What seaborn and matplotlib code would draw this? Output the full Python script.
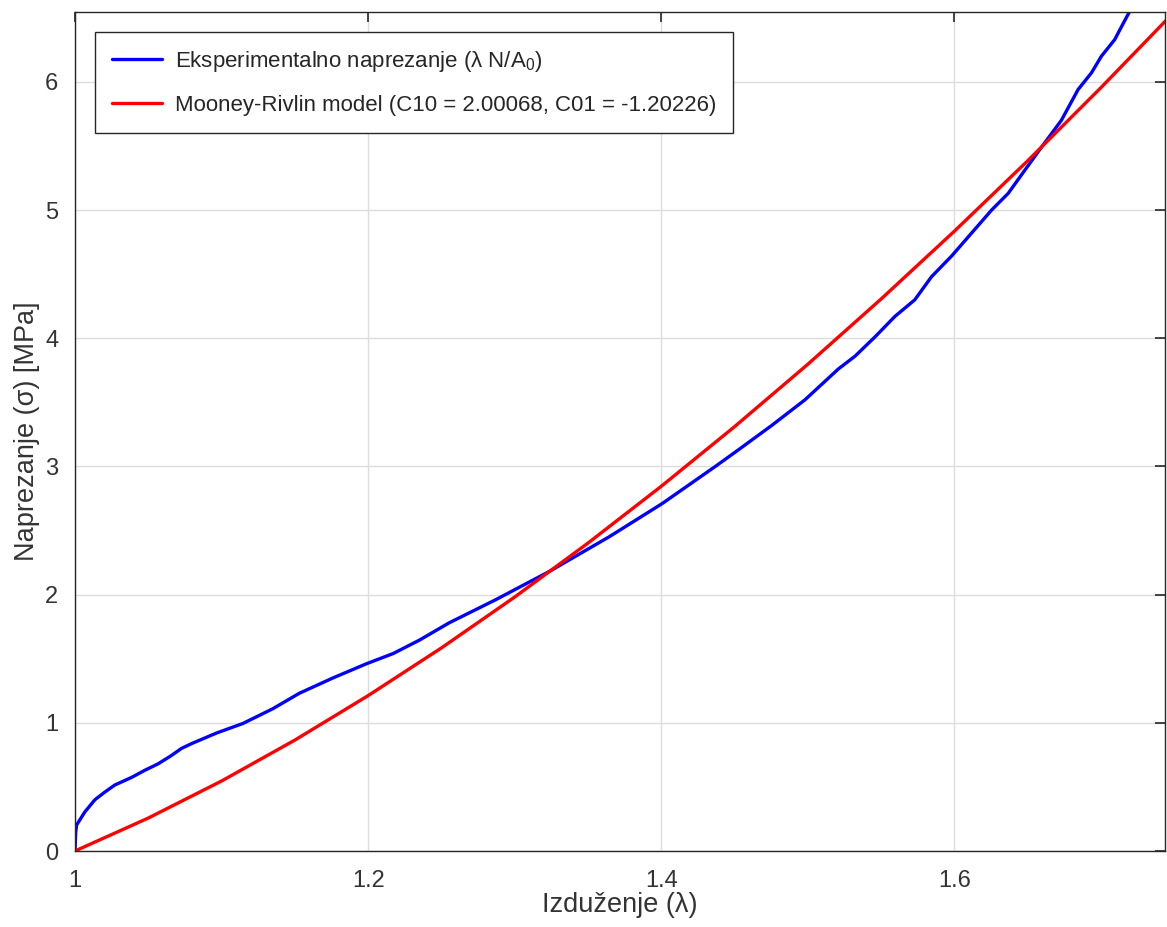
import matplotlib
matplotlib.use("Agg")
import matplotlib.pyplot as plt
import seaborn as sns
import pandas as pd

# Experimental data (stretch, stress MPa)
exp_lambda = [1.0, 1.0005, 1.0011, 1.0068, 1.0136, 1.0204, 1.0272, 1.0386, 1.0477,
              1.0567, 1.0658, 1.0726, 1.0800, 1.0965, 1.1146, 1.135,
              1.153, 1.176, 1.1987, 1.217, 1.235, 1.2553, 1.287, 1.3235, 1.3643, 1.4006,
              1.4369, 1.4527, 1.4754, 1.4981, 1.5208, 1.5322, 1.5458, 1.5594, 1.573,
              1.5844, 1.598, 1.6117, 1.6254, 1.6367, 1.648, 1.6594, 1.673, 1.6844,
              1.6935, 1.7003, 1.7094, 1.714, 1.7196, 1.723]
exp_stress = [0.0, 0.15, 0.203, 0.306, 0.40, 0.46, 0.515, 0.574, 0.63,
              0.68, 0.745, 0.80, 0.84, 0.92, 0.995, 1.11,
              1.23, 1.35, 1.46, 1.54, 1.645, 1.78, 1.96, 2.18, 2.45, 2.71,
              3.0, 3.13, 3.32, 3.52, 3.76, 3.86, 4.01, 4.17, 4.30,
              4.48, 4.64, 4.82, 5.0, 5.13, 5.31, 5.49, 5.70, 5.94,
              6.07, 6.20, 6.33, 6.43, 6.55, 6.62]

# Mooney-Rivlin model curve
mr_lambda = [1.0, 1.05, 1.1, 1.15, 1.2, 1.25, 1.3, 1.35, 1.4, 1.45, 1.5, 1.55,
             1.6, 1.65, 1.7, 1.75]
mr_stress = [0.0, 0.257, 0.546, 0.865, 1.212, 1.584, 1.981, 2.402, 2.845, 3.310,
             3.797, 4.306, 4.835, 5.384, 5.955, 6.545]

x_ticks = [1.0, 1.2, 1.4, 1.6]
x_tick_labels = ["1", "1.2", "1.4", "1.6"]
y_ticks = [0, 1, 2, 3, 4, 5, 6]

label_exp = "Eksperimentalno naprezanje (λ N/A$_0$)"
label_mr = "Mooney-Rivlin model (C10 = 2.00068, C01 = -1.20226)"

sns.set_style("white")
plt.rcParams['font.family'] = ['Liberation Sans', 'DejaVu Sans']
plt.rcParams['mathtext.fontset'] = 'custom'
plt.rcParams['mathtext.rm'] = 'Liberation Sans'
plt.rcParams['mathtext.it'] = 'Liberation Sans'

df_exp = pd.DataFrame({"x": exp_lambda, "y": exp_stress})
df_mr = pd.DataFrame({"x": mr_lambda, "y": mr_stress})

fig = plt.figure(figsize=(11.67, 9.27), dpi=100)
ax = fig.add_axes([75/1167, 76/927, 1090/1167, 839/927])

sns.lineplot(data=df_exp, x="x", y="y", ax=ax, color="#0000ff", linewidth=2.4,
             sort=False, estimator=None, label=label_exp)
sns.lineplot(data=df_mr, x="x", y="y", ax=ax, color="#ff0000", linewidth=2.4,
             sort=False, estimator=None, label=label_mr)

ax.set_xlim(1.0, 1.7437)
ax.set_ylim(0, 6.545)
ax.set_xticks(x_ticks)
ax.set_xticklabels(x_tick_labels)
ax.set_yticks(y_ticks)
ax.grid(True, color="#dcdcdc", linewidth=1.0)
ax.set_axisbelow(True)

for s in ax.spines.values():
    s.set_color("#262626")
    s.set_linewidth(1.0)
    s.set_visible(True)

ax.tick_params(axis="both", which="both", direction="in", length=7, width=1.2,
               color="#262626", labelsize=17, labelcolor="#333333",
               top=True, right=True)
ax.tick_params(axis="x", pad=14)
ax.tick_params(axis="y", pad=12)

ax.set_xlabel("Izduženje (λ)", fontsize=19.5, color="#333333", labelpad=0)
ax.set_ylabel("Naprezanje (σ) [MPa]", fontsize=19.5, color="#333333", labelpad=3.5)

leg = ax.legend(loc="upper left", bbox_to_anchor=(0.0185, 0.976), borderaxespad=0,
                fontsize=16, frameon=True, fancybox=False, framealpha=1,
                edgecolor="#262626", borderpad=0.75, labelspacing=0.95,
                handlelength=2.25, handletextpad=0.6)
leg.get_frame().set_linewidth(1.0)
for t in leg.get_texts():
    t.set_color("#262626")

fig.savefig("out.png", dpi=100)
